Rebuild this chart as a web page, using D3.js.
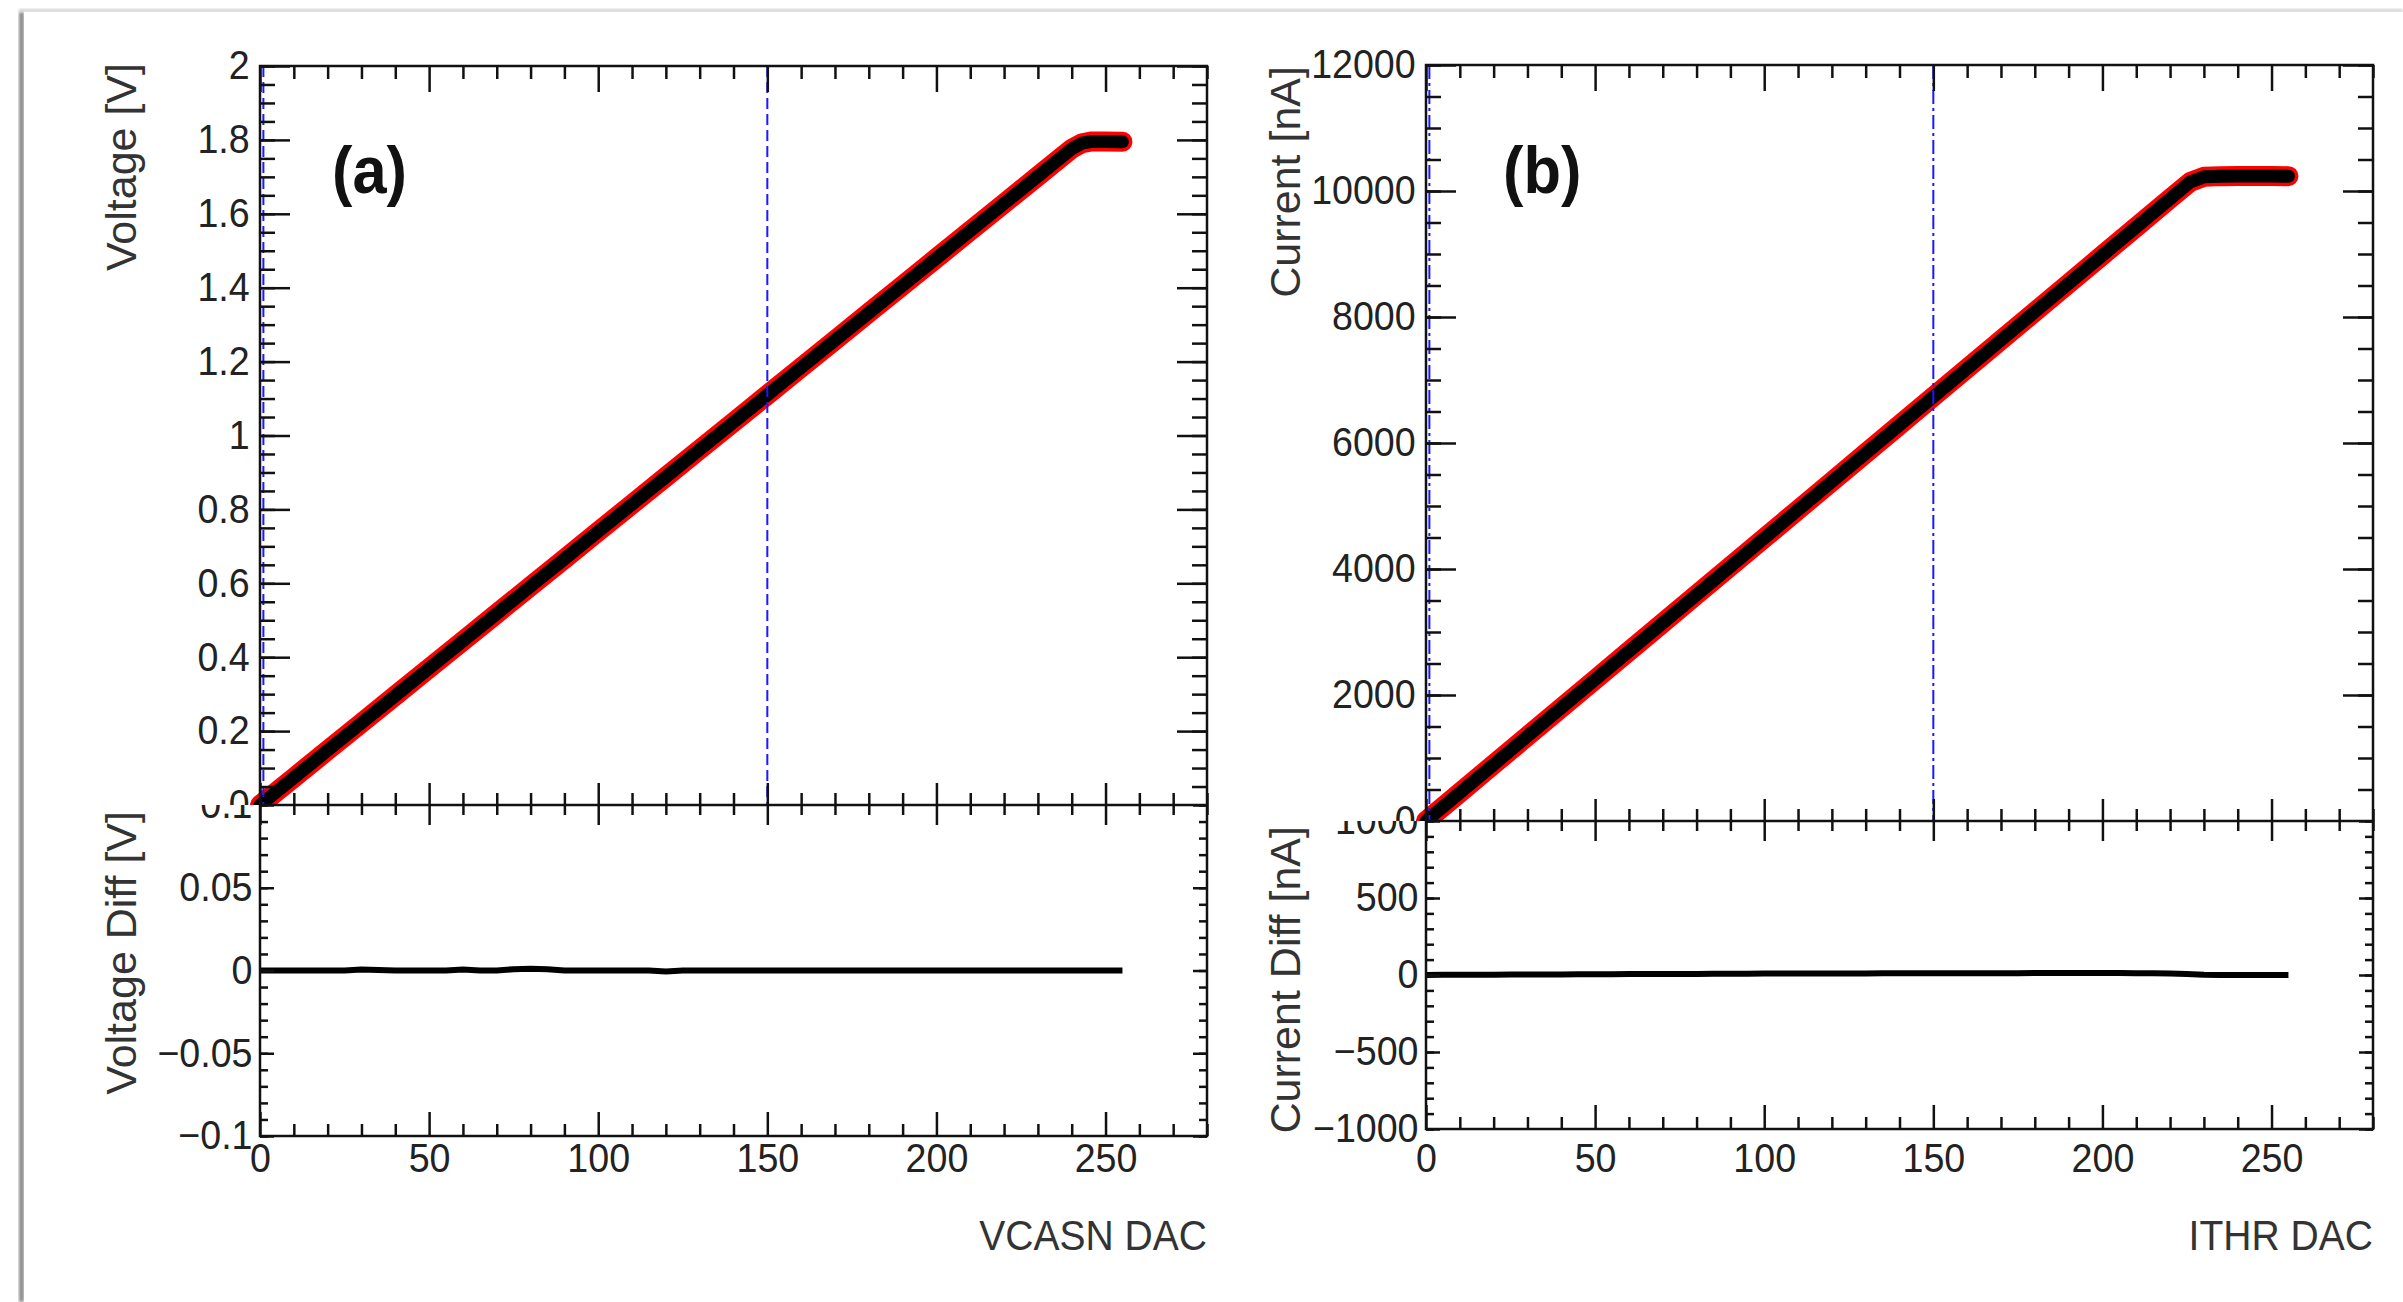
<!DOCTYPE html>
<html>
<head>
<meta charset="utf-8">
<script src="https://cdn.jsdelivr.net/npm/d3@7"></script>
<style>
  body { margin: 0; background: #fff; }
  svg { display: block; font-family: "Liberation Sans", Arial, Helvetica, sans-serif; }
</style>
</head>
<body>
<svg id="chart" width="2403" height="1302"></svg>
<script>
// ---- data ----
// (a) VCASN DAC scan
var dacA    = [0, 10, 20, 30, 40, 50, 60, 70, 80, 90, 100, 110, 120, 130, 140, 150, 160, 170, 180, 190, 200, 210, 220, 230, 240, 243, 246, 250, 255];
var voltage = [0, 0.074, 0.148, 0.222, 0.296, 0.370, 0.444, 0.518, 0.592, 0.666, 0.740, 0.814, 0.888, 0.962, 1.036, 1.110, 1.184, 1.258, 1.332, 1.406, 1.480, 1.554, 1.628, 1.702, 1.776, 1.791, 1.796, 1.796, 1.795];

// (b) ITHR DAC scan
var dacB    = [0, 10, 20, 30, 40, 50, 60, 70, 80, 90, 100, 110, 120, 130, 140, 150, 160, 170, 180, 190, 200, 210, 220, 226, 230, 235, 240, 250, 255];
var current = [0, 449, 898, 1347, 1796, 2245, 2694, 3143, 3592, 4041, 4490, 4939, 5388, 5837, 6286, 6735, 7184, 7633, 8082, 8531, 8980, 9429, 9878, 10145, 10225, 10236, 10240, 10238, 10236];

// residuals (data - fit), every 5 DAC
var dacDiff = [0, 5, 10, 15, 20, 25, 30, 35, 40, 45, 50, 55, 60, 65, 70, 75, 80, 85, 90, 95,
               100, 105, 110, 115, 120, 125, 130, 135, 140, 145, 150, 155, 160, 165, 170, 175, 180, 185, 190, 195,
               200, 205, 210, 215, 220, 225, 230, 235, 240, 245, 250, 255];
var voltageDiff = [0, 0, 0, 0, 0, 0, 0.0006, 0.0003, 0, 0, 0, 0, 0.0006, 0, 0, 0.0008, 0.001, 0.0008, 0, 0,
                   0, 0, 0, 0, -0.0006, 0, 0, 0, 0, 0, 0, 0, 0, 0, 0, 0, 0, 0, 0, 0,
                   0, 0, 0, 0, 0, 0, 0, 0, 0, 0, 0, 0];
var currentDiff = [0, 1, 1, 2, 2, 3, 3, 4, 4, 5, 5, 5, 6, 6, 7, 7, 7, 8, 8, 8,
                   9, 9, 9, 10, 10, 10, 10, 11, 11, 11, 11, 12, 12, 12, 12, 12, 13, 13, 13, 13,
                   13, 13, 12, 12, 10, 7, 2, 0, 0, 0, 0, 0];

// markers on the DAC axis (blue dashed lines)
var markDac = [1, 150];

// ticks
var dacTicks      = [0, 50, 100, 150, 200, 250];
var voltageTicks  = [0, 0.2, 0.4, 0.6, 0.8, 1, 1.2, 1.4, 1.6, 1.8, 2];
var vDiffTicks    = [-0.1, -0.05, 0, 0.05, 0.1];
var currentTicks  = [0, 2000, 4000, 6000, 8000, 10000, 12000];
var cDiffTicks    = [-1000, -500, 0, 500, 1000];

var svg = d3.select("#chart");
var fmt = d3.format("~g");

// paper edge with a soft shadow (rects, so the blur filter has a real bbox)
var defs = svg.append("defs");
defs.append("filter").attr("id", "soft").append("feGaussianBlur").attr("stdDeviation", 1.4);
svg.append("rect").attr("x", 19).attr("y", 12).attr("width", 5).attr("height", 1290)
  .attr("fill", "#8a8a8a").attr("filter", "url(#soft)");
svg.append("rect").attr("x", 19).attr("y", 9).attr("width", 2384).attr("height", 3)
  .attr("fill", "#cfcfcf").attr("filter", "url(#soft)");
svg.append("rect").attr("x", 24).attr("y", 12).attr("width", 2379).attr("height", 1290).attr("fill", "#fff");

function range(a, b, step) {
  // minor tick positions, rounded to kill float noise
  return d3.range(Math.round((b - a) / step) + 1).map(function(i){ return +(a + i * step).toFixed(6); });
}

function axis(g, fn, scale, tr, major, minor, majSize, minSize, labels, pad) {
  g.append("g").attr("transform", tr)
    .call(fn(scale).tickValues(minor).tickSize(-minSize).tickSizeOuter(0).tickFormat(""));
  var a = g.append("g").attr("transform", tr)
    .call(fn(scale).tickValues(major).tickSize(-majSize).tickSizeOuter(0).tickPadding(pad || 0)
      .tickFormat(labels ? fmt : ""));
  return a;
}

function styleAxes(g) {
  g.selectAll(".domain").remove();
  g.selectAll(".tick line").attr("stroke", "#111").attr("stroke-width", 2.5);
  g.selectAll("g").attr("font-size", null).attr("font-family", null);
  g.selectAll(".tick text")
    .attr("fill", "#222")
    .attr("font-size", 40)
    .attr("transform", "scale(0.94,1)");
}

function drawPanel(p, idx) {
  var x   = d3.scaleLinear().domain([0, 280]).range([p.x0, p.x1]);
  var yUp = d3.scaleLinear().domain(p.upDomain).range([p.mid, p.top]);
  var yLo = d3.scaleLinear().domain(p.loDomain).range([p.bottom, p.mid]);
  var xMinor = range(0, 280, 10).filter(function(d){ return d % 50 !== 0; });

  defs.append("clipPath").attr("id", "up" + idx).append("rect")
    .attr("x", p.padX0).attr("y", 0).attr("width", p.padX1 - p.padX0).attr("height", p.mid);
  defs.append("clipPath").attr("id", "lo" + idx).append("rect")
    .attr("x", p.padX0).attr("y", p.mid).attr("width", p.padX1 - p.padX0).attr("height", 1302 - p.mid);

  // ---- lower pad: residuals ----
  var lo = svg.append("g").attr("clip-path", "url(#lo" + idx + ")");

  lo.append("path")
    .datum(dacDiff.map(function(d, i){ return [d, p.diff[i]]; }))
    .attr("fill", "none").attr("stroke", "#000").attr("stroke-width", 6)
    .attr("d", d3.line().x(function(d){ return x(d[0]); }).y(function(d){ return yLo(d[1]); }));

  axis(lo, d3.axisTop, x, "translate(0," + p.mid + ")", dacTicks, xMinor, 20, 10, false);
  axis(lo, d3.axisBottom, x, "translate(0," + p.bottom + ")", dacTicks, xMinor, 24, 12, true, p.xLabelPad);
  axis(lo, d3.axisLeft, yLo, "translate(" + p.x0 + ",0)", p.loTicks, p.loMinor, 14, 8, true, 8);
  axis(lo, d3.axisRight, yLo, "translate(" + p.x1 + ",0)", p.loTicks, p.loMinor, 14, 8, false);
  styleAxes(lo);

  lo.append("rect").attr("x", p.x0).attr("y", p.mid).attr("width", p.x1 - p.x0).attr("height", p.bottom - p.mid)
    .attr("fill", "none").attr("stroke", "#111").attr("stroke-width", 2.5);

  lo.append("text")
    .attr("transform", "translate(" + p.titleX + "," + p.loTitleY + ") rotate(-90)")
    .attr("text-anchor", "end").attr("font-size", 43).attr("fill", "#333")
    .text(p.loTitle);

  lo.append("text")
    .attr("transform", "translate(" + p.x1 + ",1250) scale(0.93,1)")
    .attr("text-anchor", "end").attr("font-size", 42).attr("fill", "#333")
    .text(p.xTitle);

  // ---- upper pad: scan ----
  var up = svg.append("g").attr("clip-path", "url(#up" + idx + ")");
  var pts = p.dac.map(function(d, i){ return [d, p.val[i]]; });
  var line = d3.line().x(function(d){ return x(d[0]); }).y(function(d){ return yUp(d[1]); });

  up.append("path").datum(pts).attr("fill", "none").attr("stroke", "#ff0000").attr("stroke-width", 20)
    .attr("stroke-linecap", "round").attr("stroke-linejoin", "round").attr("d", line);
  up.append("path").datum(pts).attr("fill", "none").attr("stroke", "#000").attr("stroke-width", 13)
    .attr("stroke-linecap", "round").attr("stroke-linejoin", "round").attr("d", line);

  up.selectAll(".mark").data(markDac).enter().append("line")
    .attr("x1", function(d){ return x(d); }).attr("x2", function(d){ return x(d); })
    .attr("y1", p.top).attr("y2", p.mid)
    .attr("stroke", "#1a1aff").attr("stroke-width", 2).attr("stroke-dasharray", p.dash);

  axis(up, d3.axisTop, x, "translate(0," + p.top + ")", dacTicks, xMinor, 26, 13, false);
  axis(up, d3.axisBottom, x, "translate(0," + p.mid + ")", dacTicks, xMinor, 22, 12, false);
  axis(up, d3.axisLeft, yUp, "translate(" + p.x0 + ",0)", p.upTicks, p.upMinor, 30, 15, true, 11);
  axis(up, d3.axisRight, yUp, "translate(" + p.x1 + ",0)", p.upTicks, p.upMinor, 30, 15, false);
  styleAxes(up);

  up.append("rect").attr("x", p.x0).attr("y", p.top).attr("width", p.x1 - p.x0).attr("height", p.mid - p.top)
    .attr("fill", "none").attr("stroke", "#111").attr("stroke-width", 2.5);

  up.append("text")
    .attr("transform", "translate(" + p.titleX + "," + p.upTitleY + ") rotate(-90)")
    .attr("text-anchor", "end").attr("font-size", 43).attr("fill", "#333")
    .text(p.upTitle);

  up.append("text")
    .attr("transform", "translate(" + p.tagX + ",193) scale(0.93,1)")
    .attr("font-size", 66).attr("font-weight", "bold").attr("fill", "#111")
    .text(p.tag);
}

drawPanel({
  padX0: 30, padX1: 1215,
  x0: 260, x1: 1207, top: 66, mid: 805, bottom: 1136,
  upDomain: [0, 2], loDomain: [-0.1, 0.1],
  upTicks: voltageTicks, upMinor: range(0, 2, 0.05),
  loTicks: vDiffTicks, loMinor: range(-0.1, 0.1, 0.01),
  dac: dacA, val: voltage, diff: voltageDiff,
  xLabelPad: 8, titleX: 136, upTitleY: 63, loTitleY: 811,
  upTitle: "Voltage [V]", loTitle: "Voltage Diff [V]", xTitle: "VCASN DAC",
  tag: "(a)", tagX: 332, dash: "11,5"
}, 0);

drawPanel({
  padX0: 1215, padX1: 2403,
  x0: 1426, x1: 2373, top: 65, mid: 821, bottom: 1129,
  upDomain: [0, 12000], loDomain: [-1000, 1000],
  upTicks: currentTicks, upMinor: range(0, 12000, 500),
  loTicks: cDiffTicks, loMinor: range(-1000, 1000, 100),
  dac: dacB, val: current, diff: currentDiff,
  xLabelPad: 15, titleX: 1300, upTitleY: 66, loTitleY: 826,
  upTitle: "Current [nA]", loTitle: "Current Diff [nA]", xTitle: "ITHR DAC",
  tag: "(b)", tagX: 1503, dash: "14,4,3,4"
}, 1);
</script>
</body>
</html>
